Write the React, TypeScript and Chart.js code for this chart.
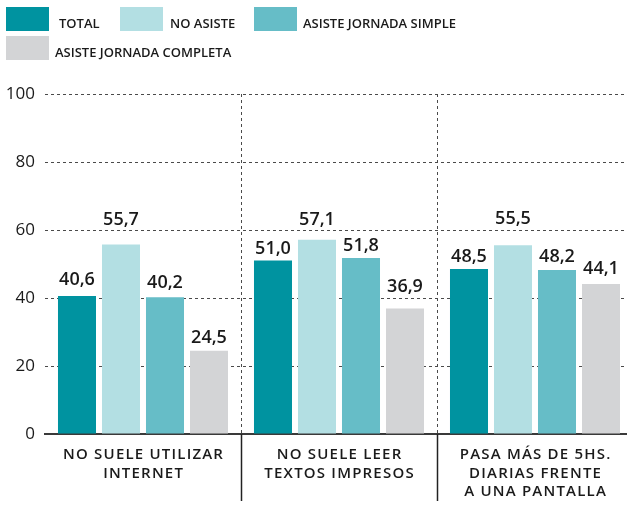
import React, { useEffect, useRef } from "react";
import { Chart, registerables } from "chart.js";

Chart.register(...registerables);

// ---- data ----
const categories: string[][] = [
  ["NO SUELE UTILIZAR", "INTERNET"],
  ["NO SUELE LEER", "TEXTOS IMPRESOS"],
  ["PASA MÁS DE 5HS.", "DIARIAS FRENTE", "A UNA PANTALLA"],
];
const seriesNames = ["TOTAL", "NO ASISTE", "ASISTE JORNADA SIMPLE", "ASISTE JORNADA COMPLETA"];
const total = [40.6, 51.0, 48.5];
const noAsiste = [55.7, 57.1, 55.5];
const jornadaSimple = [40.2, 51.8, 48.2];
const jornadaCompleta = [24.5, 36.9, 44.1];
const yTicks = [0, 20, 40, 60, 80, 100];

// ---- styles ----
const FONT = "'Open Sans', sans-serif";
const COLORS = ["#0093A0", "#B3DFE3", "#66BDC7", "#D3D4D6"];
const LEGEND_POS = [
  [6, 7, 59],
  [120, 7, 170],
  [254, 7, 303],
  [6, 36, 55],
];
const LABEL_GAP = [
  [11, 7, 7],
  [20, 15, 21],
  [9, 7, 8],
  [8, 17, 10],
];
const TEXT = "#1a1a1a";
const GRID = "#4a4a4a";

const fmt = (v: number) => v.toFixed(1).replace(".", ",");

const overlay = {
  id: "overlay",
  afterDraw(chart: any) {
    const { ctx, chartArea, scales } = chart;
    ctx.save();
    // legend
    chart.data.datasets.forEach((ds: any, i: number) => {
      const [bx, by, tx] = LEGEND_POS[i];
      ctx.fillStyle = ds.backgroundColor;
      ctx.fillRect(bx, by, 43, 24);
      ctx.fillStyle = TEXT;
      ctx.font = `600 13px ${FONT}`;
      (ctx as any).letterSpacing = "0px";
      ctx.textAlign = "left";
      ctx.textBaseline = "alphabetic";
      ctx.fillText(ds.label, tx, by + 21);
    });
    // value labels
    (ctx as any).letterSpacing = "0px";
    ctx.font = `600 18px ${FONT}`;
    ctx.fillStyle = TEXT;
    ctx.textAlign = "center";
    chart.data.datasets.forEach((ds: any, i: number) => {
      const meta = chart.getDatasetMeta(i);
      meta.data.forEach((bar: any, j: number) => {
        ctx.fillText(fmt(ds.data[j]), bar.x, bar.y - LABEL_GAP[i][j]);
      });
    });
    // category labels
    const xs = scales.x;
    ctx.font = `600 15px ${FONT}`;
    (ctx as any).letterSpacing = "1.2px";
    categories.forEach((lines, j) => {
      const cx = xs.getPixelForValue(j);
      lines.forEach((ln, k) => {
        ctx.fillText(ln, cx + 0.6, chartArea.bottom + 25 + k * 18.7);
      });
    });
    // dividers under axis
    ctx.strokeStyle = "#222";
    ctx.lineWidth = 1.5;
    for (let j = 1; j < categories.length; j++) {
      const x = Math.round((xs.getPixelForValue(j - 1) + xs.getPixelForValue(j)) / 2) + 0.5;
      ctx.beginPath();
      ctx.moveTo(x, chartArea.bottom);
      ctx.lineTo(x, chartArea.bottom + 67);
      ctx.stroke();
    }
    ctx.restore();
  },
};

export default function App() {
  const ref = useRef<HTMLCanvasElement>(null);
  useEffect(() => {
    const canvas = ref.current!;
    const series = [total, noAsiste, jornadaSimple, jornadaCompleta];
    const chart = new Chart(canvas, {
      type: "bar",
      data: {
        labels: categories.map((c) => c.join(" ")),
        datasets: series.map((d, i) => ({
          label: seriesNames[i],
          data: d,
          backgroundColor: COLORS[i],
          borderWidth: 0,
          categoryPercentage: 0.898,
          barPercentage: 0.864,
        })),
      },
      options: {
        responsive: false,
        animation: false,
        devicePixelRatio: 1,
        layout: { padding: { top: 94, bottom: 71, left: 0, right: 7 } },
        plugins: { legend: { display: false }, tooltip: { enabled: false } },
        scales: {
          x: {
            ticks: { display: false },
            grid: {
              drawTicks: false,
              color: (c: any) => (c.index === 0 ? "rgba(0,0,0,0)" : GRID),
              lineWidth: 1,
            },
            border: { display: true, color: "#3a3a3a", width: 2, dash: [3, 3] },
            afterFit: (a: any) => {
              a.height = 0;
            },
          },
          y: {
            min: 0,
            max: 100,
            afterBuildTicks: (a: any) => {
              a.ticks = yTicks.map((v) => ({ value: v }));
            },
            ticks: {
              padding: 10,
              color: TEXT,
              font: { family: FONT, size: 17, weight: "400" },
            },
            grid: {
              drawTicks: false,
              color: (c: any) => (c.tick && c.tick.value === 0 ? "rgba(0,0,0,0)" : GRID),
              lineWidth: 1,
            },
            border: { display: false, dash: [3, 3] },
            afterFit: (a: any) => {
              a.width = 45;
            },
          },
        },
      },
      plugins: [overlay],
    });
    return () => chart.destroy();
  }, []);
  return (
    <div style={{ position: "absolute", left: 0, top: 0, width: 627, height: 505, overflow: "hidden", background: "#fff" }}>
      <canvas ref={ref} width={640} height={505} style={{ display: "block" }} />
    </div>
  );
}
